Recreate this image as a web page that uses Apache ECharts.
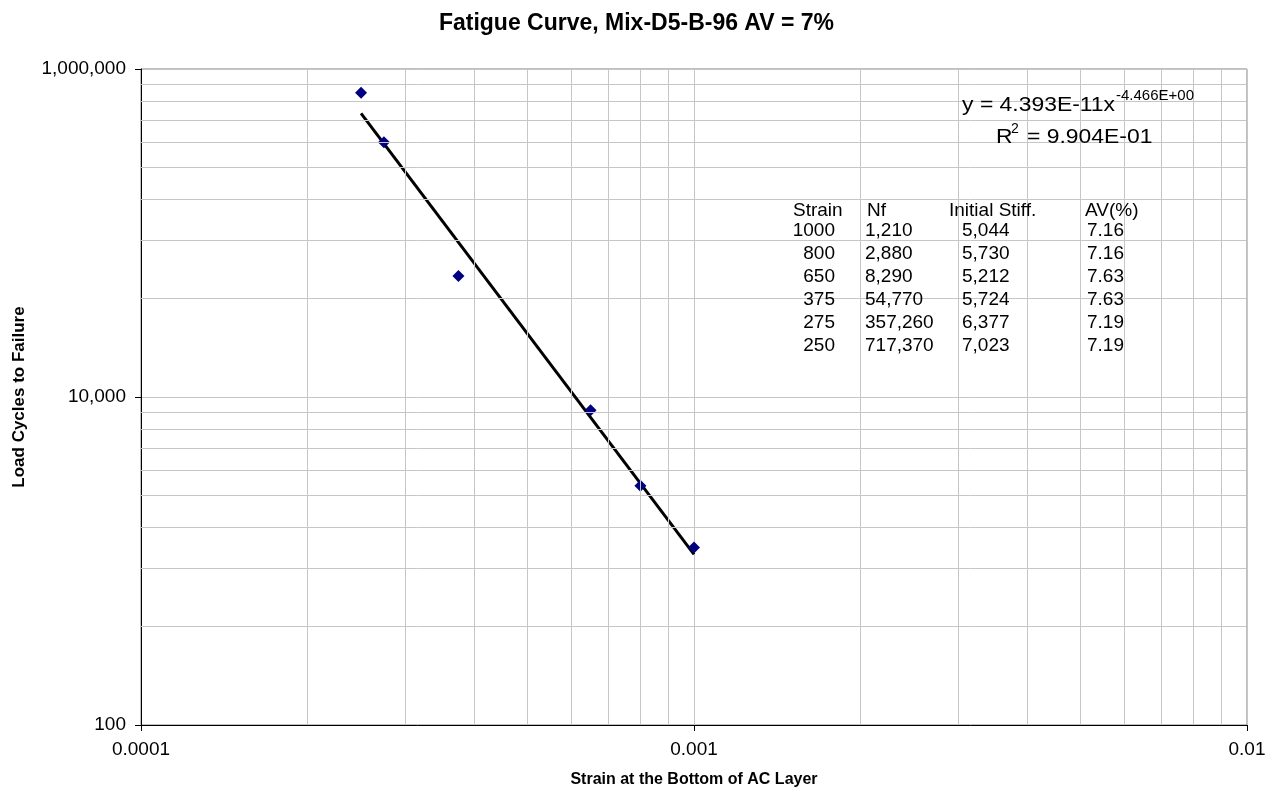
<!DOCTYPE html>
<html>
<head>
<meta charset="utf-8">
<title>Fatigue Curve</title>
<script src="https://cdn.jsdelivr.net/npm/echarts@6/dist/echarts.min.js"></script>
<style>
  html, body { margin: 0; padding: 0; background: #ffffff; }
  #chart { width: 1273px; height: 794px; }
</style>
</head>
<body>
<div id="chart"></div>
<script>
// Beam fatigue test results: tensile strain vs. cycles to failure
const strain = [0.001, 0.0008, 0.00065, 0.000375, 0.000275, 0.00025];
const cycles = [1210, 2880, 8290, 54770, 357260, 717370];

// Summary table columns
const tableHeader = ['Strain', 'Nf', 'Initial Stiff.', 'AV(%)'];
const microStrain = ['1000', '800', '650', '375', '275', '250'];
const nfText = ['1,210', '2,880', '8,290', '54,770', '357,260', '717,370'];
const stiffness = ['5,044', '5,730', '5,212', '5,724', '6,377', '7,023'];
const airVoids = ['7.16', '7.16', '7.63', '7.63', '7.19', '7.19'];

// Power-law trend: Nf = a * strain^b
const fitCoef = 4.393e-11;
const fitExp = -4.466;
const fitRange = [0.00025, 0.001];
const fitEqText = 'y = 4.393E-11x';
const fitExpText = '-4.466E+00';
const fitR2Text = '= 9.904E-01';

// Axis ticks and gridlines
const xTicks = [0.0001, 0.001, 0.01];
const xTickLabels = ['0.0001', '0.001', '0.01'];
const yTicks = [100, 10000, 1000000];
const yTickLabels = ['100', '10,000', '1,000,000'];
const xMinorGrid = [0.0002, 0.0003, 0.0004, 0.0005, 0.0006, 0.0007, 0.0008, 0.0009,
                    0.002, 0.003, 0.004, 0.005, 0.006, 0.007, 0.008, 0.009];
const yMinorGrid = [400, 900, 1600, 2500, 3600, 4900, 6400, 8100,
                    40000, 90000, 160000, 250000, 360000, 490000, 640000, 810000];

const FONT = 'Arial, "Liberation Sans", Helvetica, sans-serif';
const GRID_COLOR = '#c6c6c6';

function tickLabel(v, ticks, labels) {
  let best = -1, bestDiff = Infinity;
  ticks.forEach(function (t, i) {
    const d = Math.abs(Math.log10(v) - Math.log10(t));
    if (d < bestDiff) { bestDiff = d; best = i; }
  });
  return bestDiff < 0.01 ? labels[best] : '';
}

const points = strain.map(function (s, i) { return [s, cycles[i]]; });
const trend = fitRange.map(function (x) { return [x, fitCoef * Math.pow(x, fitExp)]; });

const xLo = xTicks[0], xHi = xTicks[xTicks.length - 1];
const yLo = yTicks[0], yHi = yTicks[yTicks.length - 1];
const minorLines = xMinorGrid.map(function (v) { return [{ coord: [v, yLo] }, { coord: [v, yHi] }]; })
  .concat(yMinorGrid.map(function (v) { return [{ coord: [xLo, v] }, { coord: [xHi, v] }]; }));

// Table text elements
const tableTextStyle = { fontFamily: FONT, fontSize: 19, fill: '#000' };
const headerY = 210.5;
const rowY0 = 230.3;
const rowStep = 23;
const table = [];
function cell(text, x, y, align) {
  table.push({
    type: 'text', x: x, y: y, z: 6, silent: true,
    style: Object.assign({ text: text, textAlign: align, textVerticalAlign: 'middle' }, tableTextStyle)
  });
}
cell(tableHeader[0], 793, headerY, 'left');
cell(tableHeader[1], 867, headerY, 'left');
cell(tableHeader[2], 949, headerY, 'left');
cell(tableHeader[3], 1085, headerY, 'left');
microStrain.forEach(function (s, i) {
  const y = rowY0 + i * rowStep;
  cell(s, 835, y, 'right');
  cell(nfText[i], 865, y, 'left');
  cell(stiffness[i], 962, y, 'left');
  cell(airVoids[i], 1087, y, 'left');
});

// Trendline equation label (slightly widened text)
const EQ_SIZE = 21;
const EQ_STRETCH = 1.09;
function eqText(text, x, y, align, size, stretch) {
  return {
    type: 'text', z: 6, silent: true, x: x, y: y, scaleX: stretch,
    style: { text: text, textAlign: align, textVerticalAlign: 'middle', fontFamily: FONT, fontSize: size, fill: '#000' }
  };
}

const chart = echarts.init(document.getElementById('chart'), null, { renderer: 'canvas' });

const option = {
  animation: false,
  backgroundColor: '#ffffff',
  title: {
    text: 'Fatigue Curve, Mix-D5-B-96 AV = 7%',
    left: 'center',
    top: 7,
    textStyle: { fontFamily: FONT, fontSize: 23, fontWeight: 'bold', color: '#000' }
  },
  grid: {
    left: 141, top: 69, width: 1106, height: 656,
    show: true, borderColor: '#808080', borderWidth: 1,
    backgroundColor: 'transparent', containLabel: false
  },
  xAxis: {
    type: 'log', logBase: 10, min: xLo, max: xHi,
    name: 'Strain at the Bottom of AC Layer',
    nameLocation: 'middle', nameGap: 47,
    nameTextStyle: { fontFamily: FONT, fontSize: 16, fontWeight: 'bold', color: '#000' },
    axisLine: { show: true, onZero: false, lineStyle: { color: '#000', width: 1 } },
    axisTick: { show: true, inside: false, length: 6, lineStyle: { color: '#000', width: 1 } },
    axisLabel: {
      margin: 15, fontFamily: FONT, fontSize: 19, color: '#000',
      formatter: function (v) { return tickLabel(v, xTicks, xTickLabels); }
    },
    splitLine: { show: true, lineStyle: { color: GRID_COLOR, width: 1 } },
    minorTick: { show: false },
    minorSplitLine: { show: false }
  },
  yAxis: {
    type: 'log', logBase: 100, min: yLo, max: yHi,
    name: 'Load Cycles to Failure',
    nameLocation: 'middle', nameGap: 113, nameRotate: 90,
    nameTextStyle: { fontFamily: FONT, fontSize: 17, fontWeight: 'bold', color: '#000' },
    axisLine: { show: true, onZero: false, lineStyle: { color: '#000', width: 1 } },
    axisTick: { show: true, inside: false, length: 6, lineStyle: { color: '#000', width: 1 } },
    axisLabel: {
      margin: 15, fontFamily: FONT, fontSize: 19, color: '#000',
      formatter: function (v) { return tickLabel(v, yTicks, yTickLabels); }
    },
    splitLine: { show: true, lineStyle: { color: GRID_COLOR, width: 1 } },
    minorTick: { show: false },
    minorSplitLine: { show: false }
  },
  series: [
    {
      // minor gridlines
      type: 'line', data: [], silent: true, z: 1,
      markLine: {
        silent: true, animation: false,
        symbol: ['none', 'none'],
        label: { show: false },
        emphasis: { disabled: true },
        lineStyle: { color: GRID_COLOR, width: 1, type: 'solid', opacity: 1 },
        data: minorLines
      }
    },
    {
      name: 'Power trend',
      type: 'line', data: trend, symbol: 'none', silent: true, z: 3,
      lineStyle: { color: '#000', width: 3, opacity: 1 }
    },
    {
      name: 'Nf',
      type: 'scatter', data: points, symbol: 'diamond', symbolSize: 12, z: 4,
      itemStyle: { color: '#000080', opacity: 1 }
    }
  ],
  graphic: [
    {
      type: 'rect', z: 5, silent: true,
      shape: { x: 953, y: 80, width: 243, height: 76 },
      style: { fill: '#ffffff' }
    },
    eqText(fitEqText, 1115, 104.8, 'right', EQ_SIZE, EQ_STRETCH),
    eqText(fitExpText, 1116, 95.7, 'left', 15, 1),
    eqText('R', 996, 137, 'left', EQ_SIZE, EQ_STRETCH),
    eqText('2', 1011, 129.5, 'left', 14, 1),
    eqText(fitR2Text, 1027, 137, 'left', EQ_SIZE, EQ_STRETCH)
  ].concat(table)
};

chart.setOption(option);
</script>
</body>
</html>
